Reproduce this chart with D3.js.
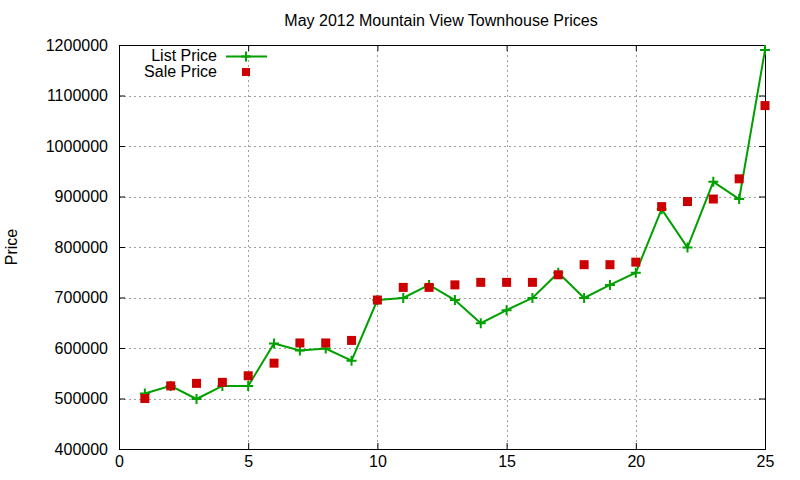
<!DOCTYPE html>
<html>
<head>
<meta charset="utf-8">
<script src="https://cdn.jsdelivr.net/npm/d3@7/dist/d3.min.js"></script>
<style>
  body { margin: 0; background: #fff; }
  text { font-family: "Liberation Sans", Arial, sans-serif; fill: #000; }
</style>
</head>
<body>
<svg width="800" height="480"></svg>
<script>
// Data
const houses = d3.range(1, 26);
const listPrice = [510000, 525000, 499000, 525000, 525000, 609000, 595000, 599000, 575000, 695000,
  699000, 725000, 695000, 649000, 675000, 699000, 749000, 699000, 725000, 749000,
  875000, 799000, 929000, 895000, 1190000];
const salePrice = [500000, 525000, 530000, 532000, 545000, 570000, 610000, 610000, 615000, 695000,
  720000, 720000, 725000, 730000, 730000, 730000, 745000, 765000, 765000, 770000,
  880000, 890000, 895000, 935000, 1080000];
const xTicks = [0, 5, 10, 15, 20, 25];
const yTicks = d3.range(400000, 1200001, 100000);

const svg = d3.select("svg");
const plotLeft = 119, plotRight = 765, plotTop = 45, plotBottom = 449;
const x = d3.scaleLinear().domain([0, 25]).range([plotLeft, plotRight]);
const y = d3.scaleLinear().domain([400000, 1200000]).range([plotBottom, plotTop]);

// Grid
svg.append("g").selectAll("line")
  .data(xTicks.filter(d => d > 0 && d < 25)).enter()
  .append("line")
    .attr("x1", d => Math.round(x(d)) + 0.5).attr("x2", d => Math.round(x(d)) + 0.5)
    .attr("y1", plotTop).attr("y2", plotBottom)
    .attr("stroke", "#a0a0a0").attr("stroke-dasharray", "2,3");
svg.append("g").selectAll("line")
  .data(yTicks.filter(d => d > 400000 && d < 1200000)).enter()
  .append("line")
    .attr("x1", plotLeft).attr("x2", plotRight)
    .attr("y1", d => Math.round(y(d)) + 0.5).attr("y2", d => Math.round(y(d)) + 0.5)
    .attr("stroke", "#a0a0a0").attr("stroke-dasharray", "2,3");

// Axes (gnuplot style: inward mirrored ticks)
svg.append("g").attr("transform", `translate(0,${plotBottom})`)
  .call(d3.axisBottom(x).tickValues(xTicks).tickSize(-6).tickPadding(7))
  .call(g => g.select(".domain").remove());
svg.append("g").attr("transform", `translate(0,${plotTop})`)
  .call(d3.axisTop(x).tickValues(xTicks).tickSize(-6).tickFormat(""))
  .call(g => g.select(".domain").remove());
svg.append("g").attr("transform", `translate(${plotLeft},0)`)
  .call(d3.axisLeft(y).tickValues(yTicks).tickSize(-6).tickPadding(11).tickFormat(d3.format("d")))
  .call(g => g.select(".domain").remove());
svg.append("g").attr("transform", `translate(${plotRight},0)`)
  .call(d3.axisRight(y).tickValues(yTicks).tickSize(-6).tickFormat(""))
  .call(g => g.select(".domain").remove());
svg.selectAll(".tick text").style("font-size", "16px").style("font-family", "Liberation Sans, Arial, sans-serif");
svg.selectAll(".tick line").attr("stroke", "#000");

svg.append("rect")
  .attr("x", plotLeft + 0.5).attr("y", plotTop + 0.5)
  .attr("width", plotRight - plotLeft).attr("height", plotBottom - plotTop)
  .attr("fill", "none").attr("stroke", "#000");

// List price line with + markers
const green = "#00a000", red = "#cc0000";
svg.append("path")
  .datum(houses)
  .attr("fill", "none").attr("stroke", green).attr("stroke-width", 2)
  .attr("d", d3.line().x(d => x(d)).y((d, i) => y(listPrice[i])));
const plus = (g, px, py) => g.append("path")
  .attr("d", `M${px - 5},${py}H${px + 5}M${px},${py - 5}V${py + 5}`)
  .attr("stroke", green).attr("stroke-width", 2);
const marks = svg.append("g");
houses.forEach((d, i) => plus(marks, x(d), y(listPrice[i])));

// Sale price squares
svg.append("g").selectAll("rect")
  .data(houses).enter()
  .append("rect")
    .attr("x", d => x(d) - 4.5).attr("y", (d, i) => y(salePrice[i]) - 4.5)
    .attr("width", 9).attr("height", 9)
    .attr("fill", red);

// Legend
const legend = svg.append("g");
legend.append("text").attr("x", 217).attr("y", 61).attr("text-anchor", "end")
  .style("font-size", "16px").text("List Price");
legend.append("line").attr("x1", 226).attr("x2", 267).attr("y1", 56.5).attr("y2", 56.5)
  .attr("stroke", green).attr("stroke-width", 2);
plus(legend, 246, 56.5);
legend.append("text").attr("x", 217).attr("y", 77).attr("text-anchor", "end")
  .style("font-size", "16px").text("Sale Price");
legend.append("rect").attr("x", 242).attr("y", 68).attr("width", 8).attr("height", 8).attr("fill", red);

// Title and y label
svg.append("text").attr("x", 441).attr("y", 26).attr("text-anchor", "middle")
  .style("font-size", "16px").text("May 2012 Mountain View Townhouse Prices");
svg.append("text").attr("transform", "translate(17,247) rotate(-90)").attr("text-anchor", "middle")
  .style("font-size", "16px").text("Price");
</script>
</body>
</html>
